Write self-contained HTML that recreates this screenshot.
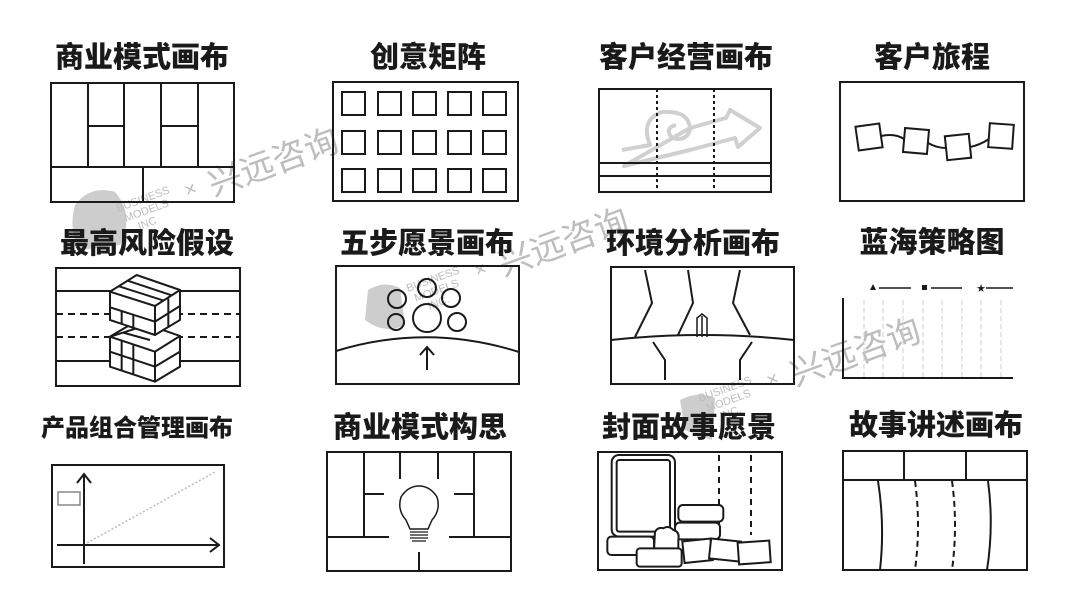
<!DOCTYPE html>
<html><head><meta charset="utf-8"><style>
html,body{margin:0;padding:0;background:#fff;width:1080px;height:607px;overflow:hidden}
svg{display:block}
text.t{font-family:"Liberation Sans","Noto Sans CJK SC",sans-serif;font-weight:900;fill:#1a1a1a;text-anchor:middle}
.s *{vector-effect:non-scaling-stroke}
</style></head><body>
<svg width="1080" height="607" viewBox="0 0 1080 607" xmlns="http://www.w3.org/2000/svg">
<!-- watermarks -->
<g fill="#c4c4c4" opacity="0.85">
<path d="M75 205 Q90 185 115 192 Q135 215 120 245 L80 250 Q68 230 75 205Z"/>
<path d="M368 290 Q385 280 400 288 L405 325 Q385 335 365 320Z"/>
<path d="M680 400 Q700 390 715 398 L712 440 L685 430Z"/>
</g>
<g fill="#bdbdbd" font-family="Liberation Sans, Noto Sans CJK SC, sans-serif">
<g transform="translate(118,212) rotate(-20)"><text font-size="11" x="0" y="0">BUSINESS</text><text font-size="11" x="4" y="12">MODELS</text><text font-size="11" x="14" y="24">INC</text><text font-size="20" x="70" y="10">×</text><text font-size="34" x="95" y="18">兴远咨询</text></g>
<g transform="translate(408,292) rotate(-20)"><text font-size="11" x="0" y="0">BUSINESS</text><text font-size="11" x="4" y="12">MODELS</text><text font-size="11" x="14" y="24">INC.</text><text font-size="20" x="70" y="10">×</text><text font-size="34" x="95" y="18">兴远咨询</text></g>
<g transform="translate(700,402) rotate(-20)"><text font-size="11" x="0" y="0">BUSINESS</text><text font-size="11" x="4" y="12">MODELS</text><text font-size="11" x="14" y="24">INC.</text><text font-size="20" x="70" y="10">×</text><text font-size="34" x="95" y="18">兴远咨询</text></g>
</g>

<!-- titles -->
<text class="t" x="142" y="67" font-size="29">商业模式画布</text>
<text class="t" x="428" y="67" font-size="29">创意矩阵</text>
<text class="t" x="686" y="67" font-size="29">客户经营画布</text>
<text class="t" x="932" y="67" font-size="29">客户旅程</text>
<text class="t" x="147" y="253" font-size="29">最高风险假设</text>
<text class="t" x="427" y="253" font-size="29">五步愿景画布</text>
<text class="t" x="693" y="253" font-size="29">环境分析画布</text>
<text class="t" x="932" y="252" font-size="29">蓝海策略图</text>
<text class="t" x="137" y="436" font-size="24">产品组合管理画布</text>
<text class="t" x="420" y="437" font-size="29">商业模式构思</text>
<text class="t" x="689" y="437" font-size="29">封面故事愿景</text>
<text class="t" x="936" y="435" font-size="29">故事讲述画布</text>

<g fill="none" stroke="#1a1a1a" stroke-width="2">
<!-- 1 BMC -->
<rect x="51" y="83" width="183" height="119"/>
<path d="M88 83V167M124 83V167M161 83V167M198 83V167M51 167H234M143 167V202M88 126H124M161 126H198"/>
<!-- 2 matrix -->
<rect x="333" y="82" width="185" height="119"/>
<g>
<rect x="342" y="92" width="23" height="23"/><rect x="378" y="92" width="23" height="23"/><rect x="413" y="92" width="23" height="23"/><rect x="448" y="92" width="23" height="23"/><rect x="483" y="92" width="23" height="23"/>
<rect x="342" y="131" width="23" height="23"/><rect x="378" y="131" width="23" height="23"/><rect x="413" y="131" width="23" height="23"/><rect x="448" y="131" width="23" height="23"/><rect x="483" y="131" width="23" height="23"/>
<rect x="342" y="169" width="23" height="23"/><rect x="378" y="169" width="23" height="23"/><rect x="413" y="169" width="23" height="23"/><rect x="448" y="169" width="23" height="23"/><rect x="483" y="169" width="23" height="23"/>
</g>
<!-- 3 customer canvas -->
<path d="M622 150 L650 145 Q640 120 662 112 Q690 110 690 130 Q686 142 672 138 Q664 128 676 125 M690 128 L726 118 L730 110 L760 128 L738 147 L735 138 L690 150 L624 166Z" stroke="#d0d0d0" stroke-width="4" stroke-linejoin="round"/>
<rect x="599" y="89" width="172" height="103"/>
<path d="M599 163H771M599 176H771"/>
<path d="M657 89V192M714 89V192" stroke-dasharray="3 3"/>
<!-- 4 journey -->
<rect x="840" y="82" width="184" height="119"/>
<path d="M881 136 Q895 133 904 139 M928 143 Q937 148 946 148 M970 147 Q980 145 989 139"/>
<rect x="857" y="125" width="24" height="24" transform="rotate(-8 869 137)"/>
<rect x="904" y="129" width="24" height="24" transform="rotate(5 916 141)"/>
<rect x="946" y="135" width="24" height="24" transform="rotate(-6 958 147)"/>
<rect x="989" y="124" width="24" height="24" transform="rotate(4 1001 136)"/>

<!-- 5 risk -->
<rect x="56" y="268" width="184" height="118"/>
<path d="M56 291H240M56 361H240"/>
<path d="M56 314H240M56 337H240" stroke-dasharray="7 5"/>
<g class="s" transform="translate(40,220) scale(0.3333)" fill="#fff" stroke-width="2">
<!-- lower block -->
<polygon points="210,350 290,303 420,348 420,440 345,485 210,440"/>
<path d="M210,350 345,395 420,348 M345,395V485 M210,395 345,440 420,395 M245,362V452 M280,373V463 M210,350 290,325 M250,338 330,360"/>
<!-- upper block -->
<polygon points="210,215 290,165 420,210 420,300 345,345 210,300"/>
<path d="M210,215 345,258 420,210 M345,258V345 M237,199 372,242 M263,182 395,226 M210,262 345,305 420,258 M245,272V312 M385,236V322 M280,283V330"/>
</g>
<!-- 6 vision -->
<rect x="336" y="266" width="183" height="118"/>
<path d="M336 351 Q427 323 519 352"/>
<path d="M427 370V348M420 355L427 347L434 355"/>
<circle cx="427" cy="288" r="9"/><circle cx="397" cy="299" r="9"/><circle cx="451" cy="298" r="9"/>
<circle cx="427" cy="318" r="14"/><circle cx="396" cy="322" r="8"/><circle cx="457" cy="322" r="9"/>
<!-- 7 environment -->
<rect x="611" y="267" width="183" height="117"/>
<path d="M611 340 Q703 330 794 340"/>
<path d="M645 270L652 303L635 337M688 270L693 303L678 335M740 270L733 303L750 335M653 342L665 360V380M752 342L740 360V380"/>
<path d="M697 337V318L702 314L707 318V337M702 316V337" stroke-width="1.5"/>
<!-- 8 blue ocean -->
<path d="M843 298V378H1013"/>
<path d="M864 300V378M883 300V378M903 300V378M923 300V378M942 300V378M962 300V378M981 300V378M1001 300V378" stroke="#cfcfcf" stroke-width="1" stroke-dasharray="5 3"/>
<path d="M879 288H911M931 288H962M986 288H1013" stroke-width="1.5"/>
</g>
<polygon points="873,284 876,290 870,290" fill="#1a1a1a"/>
<rect x="922" y="285" width="5" height="5" fill="#1a1a1a"/>
<text x="981" y="292" font-size="11" fill="#1a1a1a" text-anchor="middle" font-family="DejaVu Sans, sans-serif">★</text>

<g fill="none" stroke="#1a1a1a" stroke-width="2">
<!-- 9 portfolio -->
<rect x="52" y="465" width="172" height="102"/>
<path d="M84 564V474M77 483L84 474L91 483M57 545H219M210 538L219 545L210 552"/>
<rect x="58" y="492" width="22" height="13" stroke="#888" stroke-width="1.5"/>
<path d="M87 543L215 472" stroke="#bbb" stroke-width="1.5" stroke-dasharray="2 2"/>
<!-- 10 BM ideation -->
<rect x="327" y="452" width="184" height="119"/>
<path d="M364 452V537M474 452V537M400 452V479M438 452V479M327 537H389M449 537H511M364 494H384M454 494H474M419 552V571"/>
<path d="M410 529 L406 520 Q397 510 401 497 Q408 486 419 486 Q430 486 437 497 Q441 510 432 520 L428 529Z" stroke-width="1.5"/>
<path d="M410 532H428M410 535H428M410 538H428M412 541H426" stroke-width="1.3"/>
<!-- 11 cover story -->
<rect x="598" y="452" width="184" height="118"/>
<path d="M719 455V535M751 455V535" stroke-dasharray="6 5"/>
<g class="s" transform="translate(580,400) scale(0.3333)" fill="#fff" stroke-width="2">
<rect x="95" y="165" width="190" height="245" rx="22"/>
<rect x="110" y="180" width="160" height="215" rx="8"/>
<rect x="295" y="315" width="135" height="50" rx="14"/>
<rect x="285" y="368" width="135" height="50" rx="14"/>
<path d="M225 395 Q235 380 250 385 Q265 375 280 390 Q300 395 295 420 L295 450 L222 450Z"/>
<rect x="82" y="410" width="140" height="55" rx="12"/>
<rect x="310" y="420" width="85" height="65" transform="rotate(-6 352 452)"/>
<rect x="390" y="420" width="90" height="60" transform="rotate(6 435 450)"/>
<rect x="475" y="425" width="95" height="65" transform="rotate(-4 522 457)"/>
<rect x="170" y="445" width="135" height="55" rx="10"/>
</g>
<!-- 12 storytelling -->
<rect x="843" y="451" width="184" height="119"/>
<path d="M843 480H1027M904 451V480M966 451V480"/>
<path d="M878 481 Q885 525 880 570M988 481 Q994 525 987 570"/>
<path d="M915 481 Q921 525 915 570M952 481 Q958 525 952 570" stroke-dasharray="6 4"/>
</g>
</svg>
</body></html>
